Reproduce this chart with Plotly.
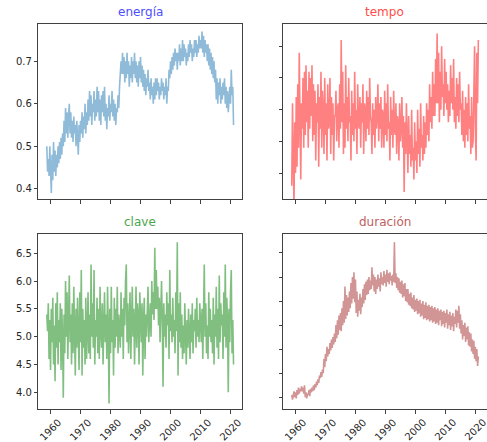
import plotly.graph_objects as go

# ---------------- data (quarterly estimates) ----------------
start_year = 1958
first_year_quarters = [0.625, 0.875]          # data begins in the 2nd half of 1958
quarters = [0.125, 0.375, 0.625, 0.875]
end_year = 2020

energia = [
    0.50, 0.44,
    0.47, 0.43, 0.50, 0.45,   # 1959
    0.39, 0.48, 0.42, 0.51,   # 1960
    0.44, 0.49, 0.43, 0.48,
    0.45, 0.50, 0.46, 0.51,
    0.47, 0.52, 0.48, 0.53,
    0.50, 0.56, 0.51, 0.59,
    0.53, 0.58, 0.52, 0.57,   # 1965
    0.60, 0.53, 0.58, 0.52,
    0.56, 0.51, 0.57, 0.53,
    0.55, 0.50, 0.56, 0.52,
    0.48, 0.55, 0.51, 0.56,
    0.53, 0.58, 0.52, 0.57,   # 1970
    0.54, 0.60, 0.53, 0.58,
    0.55, 0.61, 0.56, 0.63,
    0.57, 0.62, 0.55, 0.60,
    0.58, 0.63, 0.56, 0.61,
    0.57, 0.64, 0.58, 0.63,   # 1975
    0.56, 0.61, 0.55, 0.62,
    0.58, 0.63, 0.57, 0.64,
    0.56, 0.60, 0.54, 0.59,
    0.57, 0.62, 0.56, 0.60,
    0.58, 0.63, 0.57, 0.61,   # 1980
    0.56, 0.60, 0.55, 0.59,
    0.58, 0.62, 0.59, 0.64,
    0.66, 0.70, 0.67, 0.72,
    0.67, 0.71, 0.65, 0.70,
    0.66, 0.72, 0.67, 0.70,   # 1985
    0.64, 0.69, 0.66, 0.71,
    0.65, 0.70, 0.67, 0.72,
    0.66, 0.70, 0.65, 0.69,
    0.64, 0.70, 0.66, 0.71,
    0.65, 0.69, 0.64, 0.68,   # 1990
    0.63, 0.67, 0.62, 0.66,
    0.64, 0.68, 0.63, 0.65,
    0.61, 0.66, 0.62, 0.64,
    0.60, 0.65, 0.61, 0.66,
    0.62, 0.66, 0.63, 0.65,   # 1995
    0.61, 0.64, 0.62, 0.66,
    0.63, 0.65, 0.61, 0.64,
    0.62, 0.66, 0.60, 0.64,
    0.63, 0.68, 0.66, 0.70,
    0.67, 0.71, 0.68, 0.72,   # 2000
    0.69, 0.73, 0.70, 0.72,
    0.68, 0.72, 0.70, 0.74,
    0.69, 0.73, 0.70, 0.75,
    0.70, 0.74, 0.71, 0.73,
    0.69, 0.72, 0.70, 0.74,   # 2005
    0.71, 0.75, 0.72, 0.74,
    0.70, 0.73, 0.71, 0.75,
    0.72, 0.75, 0.71, 0.74,
    0.72, 0.76, 0.73, 0.75,
    0.73, 0.77, 0.72, 0.76,   # 2010
    0.71, 0.75, 0.72, 0.74,
    0.70, 0.74, 0.69, 0.73,
    0.68, 0.72, 0.67, 0.71,
    0.66, 0.70, 0.65, 0.68,
    0.61, 0.66, 0.60, 0.65,   # 2015
    0.62, 0.66, 0.60, 0.64,
    0.61, 0.65, 0.62, 0.66,
    0.60, 0.64, 0.59, 0.63,
    0.58, 0.62, 0.64, 0.60,
    0.68, 0.62, 0.64, 0.55,   # 2020
]

tempo = [
    108, 121,
    112, 105, 118, 110,   # 1959
    122, 111, 124, 114,   # 1960
    129, 113, 109, 121,
    117, 125, 114, 126,
    116, 127, 118, 123,
    114, 126, 117, 125,
    119, 127, 115, 124,   # 1965
    116, 123, 112, 121,
    118, 124, 111, 122,
    117, 126, 114, 123,
    120, 113, 125, 116,
    121, 112, 124, 117,   # 1970
    118, 125, 113, 122,
    116, 121, 112, 119,
    119, 123, 115, 120,
    121, 114, 124, 117,
    131, 118, 126, 113,   # 1975
    121, 114, 127, 117,
    122, 115, 125, 118,
    119, 112, 123, 116,
    121, 115, 126, 117,
    120, 113, 124, 118,   # 1980
    117, 122, 114, 121,
    118, 124, 113, 121,
    120, 115, 123, 117,
    122, 116, 125, 119,
    118, 113, 121, 116,   # 1985
    120, 114, 122, 117,
    119, 124, 115, 121,
    117, 122, 114, 120,
    119, 114, 123, 116,
    121, 115, 124, 117,   # 1990
    118, 112, 122, 116,
    120, 114, 123, 117,
    116, 121, 113, 119,
    118, 112, 121, 115,
    117, 122, 114, 119,   # 1995
    107, 118, 113, 121,
    115, 110, 119, 113,
    116, 111, 120, 112,
    114, 109, 118, 112,
    115, 110, 120, 113,   # 2000
    117, 111, 121, 114,
    116, 112, 119, 113,
    118, 114, 121, 116,
    120, 115, 124, 118,
    122, 117, 126, 119,   # 2005
    124, 119, 128, 121,
    132, 121, 129, 118,
    126, 120, 130, 122,
    124, 119, 128, 121,
    126, 120, 124, 118,   # 2010
    123, 119, 127, 121,
    125, 120, 128, 118,
    122, 117, 125, 119,
    124, 118, 126, 120,
    121, 116, 123, 115,   # 2015
    120, 114, 122, 116,
    121, 115, 124, 117,
    119, 113, 122, 114,
    115, 120, 130, 117,
    112, 129, 121, 131,   # 2020
]

clave = [
    5.4, 5.1,
    5.6, 4.6, 5.3, 4.4,   # 1959
    5.5, 4.9, 5.7, 4.5,   # 1960
    5.2, 4.2, 5.6, 4.8,
    5.8, 4.5, 5.3, 4.9,
    5.6, 4.4, 5.5, 5.0,
    3.9, 5.4, 4.7, 6.0,
    5.0, 5.8, 4.6, 5.5,   # 1965
    6.1, 4.9, 5.4, 4.5,
    5.6, 4.7, 5.9, 5.1,
    4.3, 5.5, 4.8, 5.7,
    5.2, 4.4, 5.8, 4.9,
    6.2, 4.3, 5.5, 4.8,   # 1970
    5.3, 4.5, 5.7, 4.6,
    5.1, 5.8, 4.7, 5.4,
    4.6, 6.3, 5.0, 5.6,
    4.8, 6.2, 4.5, 5.3,
    5.0, 5.7, 4.7, 5.5,   # 1975
    4.6, 5.9, 5.1, 4.8,
    5.6, 4.5, 5.2, 5.8,
    4.9, 5.4, 4.6, 5.9,
    5.1, 3.8, 5.5, 4.7,
    5.9, 4.9, 5.3, 4.3,   # 1980
    5.7, 4.8, 5.5, 5.0,
    5.9, 4.7, 5.4, 5.1,
    4.8, 5.8, 5.0, 5.5,
    4.6, 5.7, 5.2, 6.0,
    6.3, 4.9, 5.6, 4.7,   # 1985
    5.3, 5.8, 4.6, 5.5,
    5.9, 5.0, 5.5, 4.5,
    5.2, 5.9, 4.8, 5.6,
    5.4, 4.5, 5.8, 5.0,
    4.9, 5.6, 4.3, 5.3,   # 1990
    5.7, 4.6, 5.4, 5.0,
    5.3, 5.9, 4.9, 5.5,
    5.6, 5.0, 6.0, 5.4,
    5.8, 5.3, 6.6, 5.5,
    6.2, 5.5, 5.9, 5.2,   # 1995
    5.7, 4.9, 5.5, 6.0,
    5.3, 4.1, 5.6, 5.0,
    5.4, 4.8, 5.8, 5.2,
    5.6, 4.6, 6.2, 5.1,
    5.4, 4.9, 5.7, 5.0,   # 2000
    5.3, 4.7, 5.8, 5.1,
    6.7, 4.3, 5.6, 4.9,
    5.8, 4.8, 5.4, 4.6,
    5.2, 4.7, 5.6, 5.0,
    4.5, 5.3, 4.8, 5.5,   # 2005
    5.0, 4.6, 5.4, 4.9,
    5.6, 4.7, 5.3, 5.1,
    5.5, 4.8, 5.7, 5.0,
    5.3, 4.9, 5.6, 5.2,
    4.9, 5.5, 4.6, 5.4,   # 2010
    6.3, 5.0, 5.6, 4.7,
    5.2, 4.6, 5.8, 5.0,
    5.5, 4.9, 5.3, 4.7,
    5.7, 4.5, 5.4, 5.0,
    5.9, 4.8, 5.5, 4.6,   # 2015
    6.1, 4.9, 5.6, 5.2,
    5.4, 4.6, 5.8, 5.0,
    6.3, 4.8, 5.7, 5.3,
    4.0, 5.5, 4.9, 5.8,
    6.2, 4.7, 5.3, 4.5,   # 2020
]

duracion = [
    152, 148,
    151, 155, 150, 154,   # 1959
    149, 156, 152, 158,   # 1960
    153, 157, 155, 159,
    155, 158, 153, 160,
    150, 154, 149, 153,
    152, 156, 151, 157,
    154, 158, 155, 160,   # 1965
    156, 161, 158, 163,
    160, 165, 162, 168,
    166, 171, 167, 173,
    170, 182, 175, 186,
    180, 192, 184, 190,   # 1970
    186, 195, 189, 198,
    191, 200, 194, 203,
    196, 210, 199, 214,
    202, 218, 206, 220,
    205, 224, 210, 230,   # 1975
    212, 242, 215, 235,
    218, 233, 221, 238,
    224, 245, 228, 250,
    232, 254, 229, 248,
    220, 238, 217, 231,   # 1980
    222, 236, 219, 233,
    225, 240, 228, 244,
    231, 246, 235, 248,
    236, 250, 239, 247,
    240, 258, 243, 252,   # 1985
    238, 250, 236, 248,
    240, 252, 242, 249,
    238, 254, 244, 250,
    243, 255, 245, 252,
    242, 256, 246, 253,   # 1990
    244, 254, 247, 251,
    243, 252, 246, 279,
    245, 253, 241, 250,
    239, 249, 237, 246,
    236, 247, 233, 244,   # 1995
    234, 245, 230, 240,
    229, 240, 227, 236,
    226, 237, 224, 233,
    223, 235, 221, 231,
    222, 232, 219, 230,   # 2000
    220, 231, 217, 228,
    218, 230, 215, 227,
    216, 229, 214, 226,
    215, 227, 213, 225,
    214, 226, 212, 224,   # 2005
    213, 225, 211, 223,
    212, 224, 210, 222,
    214, 223, 209, 221,
    211, 222, 208, 220,
    212, 223, 207, 219,   # 2010
    210, 221, 206, 218,
    209, 220, 205, 217,
    211, 223, 208, 222,
    212, 226, 207, 219,
    203, 214, 198, 210,   # 2015
    201, 212, 196, 208,
    198, 209, 193, 204,
    192, 203, 188, 198,
    186, 197, 182, 192,
    180, 190, 176, 184,   # 2020
]

titles = ["energía", "tempo", "clave", "duración"]
x_tick_years = [1960, 1970, 1980, 1990, 2000, 2010, 2020]

# time axis (decimal years, one value per quarter)
fechas = [start_year + q for q in first_year_quarters]
for yr in range(start_year + 1, end_year + 1):
    fechas += [yr + q for q in quarters]

# ---------------- styling ----------------
line_colors = ["#8fbbd9", "#ff8080", "#80bf80", "#d29595"]
title_colors = ["#4d4dff", "#ff4d4d", "#4da64d", "#c06060"]
series = [energia, tempo, clave, duracion]

x_domains = [[0.0787, 0.4963], [0.5817, 0.9990], [0.0787, 0.4963], [0.5817, 0.9990]]
y_domains = [[0.549, 0.945], [0.549, 0.945], [0.074, 0.470], [0.074, 0.470]]
y_ranges = [[0.375, 0.787], [105.85, 133.47], [3.694, 6.842], [140.0, 285.55]]
y_ticks = [[0.4, 0.5, 0.6, 0.7], [110, 115, 120, 125, 130],
           [4.0, 4.5, 5.0, 5.5, 6.0, 6.5], [150, 170, 190, 210, 230, 250, 270]]
y_ticktext = [["0.4", "0.5", "0.6", "0.7"], None,
              ["4.0", "4.5", "5.0", "5.5", "6.0", "6.5"], None]
x_range = [1955.8, 2023.6]

axis_color = "#404040"
text_color = "#262626"
font_family = "DejaVu Sans"

fig = go.Figure()
layout = dict(
    template="none",
    width=487, height=442,
    margin=dict(l=0, r=0, t=0, b=0, pad=0),
    paper_bgcolor="white", plot_bgcolor="white",
    showlegend=False,
    font=dict(family=font_family, size=10, color=text_color),
)
annotations = []
for i in range(4):
    sfx = "" if i == 0 else str(i + 1)
    fig.add_trace(go.Scatter(
        x=fechas, y=series[i], mode="lines",
        line=dict(color=line_colors[i], width=1.6),
        xaxis="x" + sfx, yaxis="y" + sfx, hoverinfo="skip",
    ))
    bottom = i >= 2
    left = i % 2 == 0
    layout["xaxis" + sfx] = dict(
        domain=x_domains[i], anchor="y" + sfx, range=x_range,
        tickvals=x_tick_years, showticklabels=False, automargin=False,
        ticks="outside", ticklen=3.5, tickwidth=1, tickcolor=axis_color,
        showline=True, linecolor=axis_color, linewidth=1, mirror=True,
        showgrid=False, zeroline=False, fixedrange=True,
    )
    ydict = dict(
        domain=y_domains[i], anchor="x" + sfx, range=y_ranges[i],
        tickvals=y_ticks[i], showticklabels=left, automargin=False,
        ticks="outside", ticklen=3.5, tickwidth=1, tickcolor=axis_color,
        showline=True, linecolor=axis_color, linewidth=1, mirror=True,
        showgrid=False, zeroline=False, fixedrange=True,
        tickfont=dict(size=10, color=text_color, family=font_family),
    )
    if y_ticktext[i] is not None:
        ydict["ticktext"] = y_ticktext[i]
    layout["yaxis" + sfx] = ydict
    annotations.append(dict(
        text=titles[i], xref="paper", yref="paper",
        x=(x_domains[i][0] + x_domains[i][1]) / 2, y=y_domains[i][1],
        xanchor="center", yanchor="bottom", yshift=3, showarrow=False,
        font=dict(size=12, color=title_colors[i], family=font_family),
    ))
    # rotated year labels, centred under each tick (matplotlib style)
    if bottom:
        for yr in x_tick_years:
            annotations.append(dict(
                text=str(yr), xref="x" + sfx, yref="paper",
                x=yr, y=y_domains[i][0],
                xanchor="center", yanchor="top", yshift=-5,
                textangle=-45, showarrow=False,
                font=dict(size=10, color=text_color, family=font_family),
            ))
layout["annotations"] = annotations
fig.update_layout(**layout)
fig.write_html(
    "out.html",
    config={"displayModeBar": False},
    post_script="document.body.style.margin='0';document.body.style.overflow='hidden';",
)
